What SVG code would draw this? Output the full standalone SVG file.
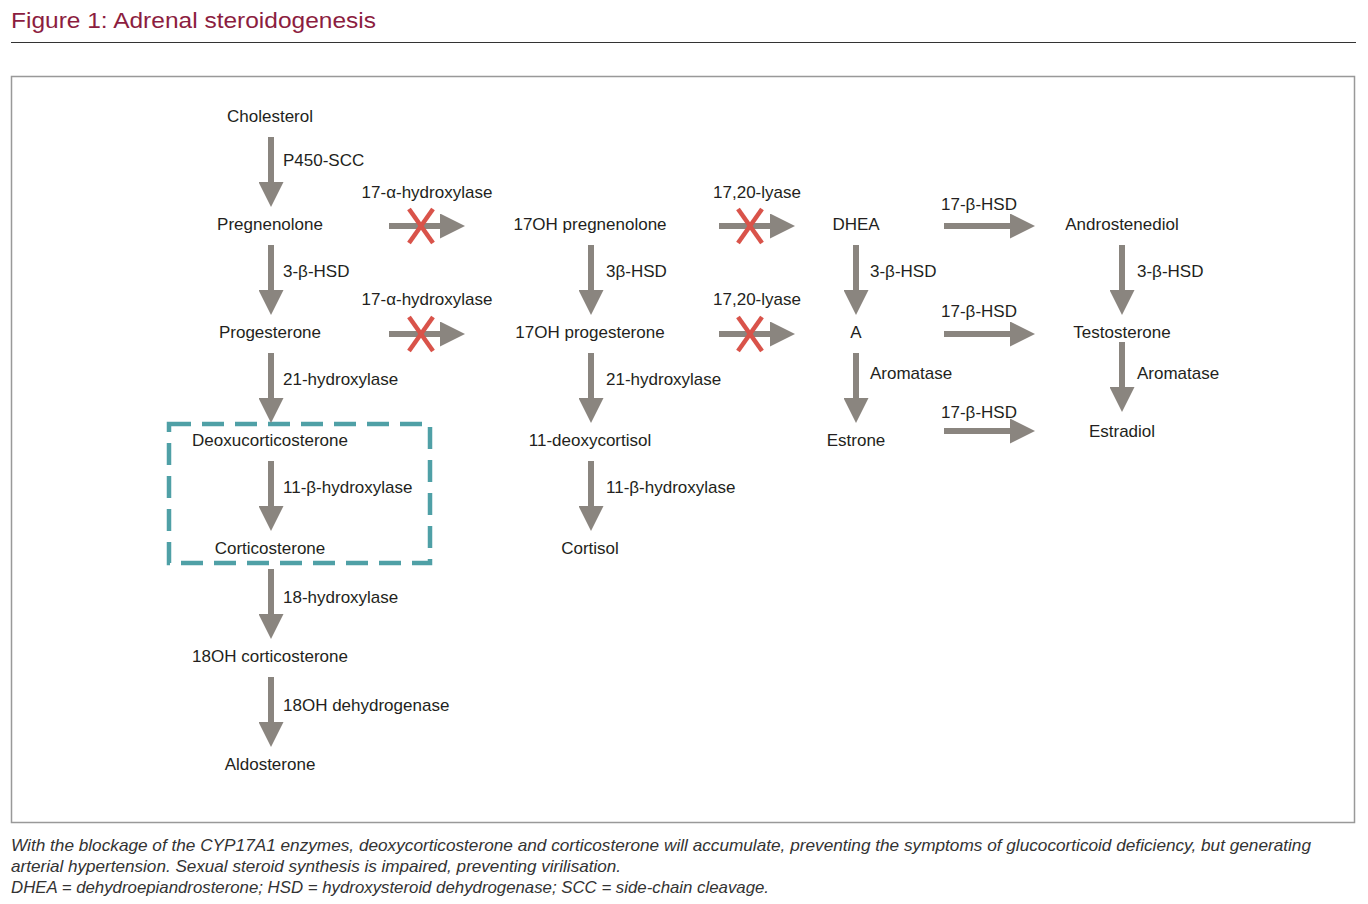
<svg xmlns="http://www.w3.org/2000/svg" width="1368" height="904" viewBox="0 0 1368 904">
<defs>
<marker id="ah" viewBox="0 0 25 25" refX="0" refY="12.5" markerWidth="25" markerHeight="25" markerUnits="userSpaceOnUse" orient="auto">
<path d="M0,0 L25,12.5 L0,25 Z" fill="#8a857f"/>
</marker>
<style>
.t{font-family:"Liberation Sans",Arial,sans-serif;font-size:17px;fill:#231f20}
.c{text-anchor:middle}
.a{stroke:#8a857f;stroke-width:6;fill:none;marker-end:url(#ah)}
.x{stroke:#d9534a;stroke-width:4.5;stroke-linecap:butt}
.cap{font-family:"Liberation Sans Narrow","Liberation Sans",Arial,sans-serif;font-size:17px;font-style:italic;fill:#333}
</style>
</defs>
<rect width="1368" height="904" fill="#fff"/>
<text x="11" y="28" font-family="Liberation Sans, Arial, sans-serif" font-size="22" fill="#8c1d40" textLength="365" lengthAdjust="spacingAndGlyphs">Figure 1: Adrenal steroidogenesis</text>
<line x1="11" y1="42.5" x2="1356" y2="42.5" stroke="#333" stroke-width="1"/>
<rect x="11.5" y="76.5" width="1343" height="746" fill="none" stroke="#999" stroke-width="1.5"/>

<g id="highlight">
<rect x="169" y="424" width="261" height="139" fill="none" stroke="#4fa0a6" stroke-width="4.5" stroke-dasharray="22 11"/>
</g>

<g id="connectors">
<line class="a" x1="271" y1="137" x2="271" y2="182"/>
<line class="a" x1="271" y1="245" x2="271" y2="290"/>
<line class="a" x1="271" y1="353" x2="271" y2="398"/>
<line class="a" x1="271" y1="461" x2="271" y2="506"/>
<line class="a" x1="271" y1="569" x2="271" y2="614"/>
<line class="a" x1="271" y1="677" x2="271" y2="722"/>
<line class="a" x1="591" y1="245" x2="591" y2="290"/>
<line class="a" x1="591" y1="353" x2="591" y2="398"/>
<line class="a" x1="591" y1="461" x2="591" y2="506"/>
<line class="a" x1="856" y1="245" x2="856" y2="290"/>
<line class="a" x1="856" y1="353" x2="856" y2="398"/>
<line class="a" x1="1122" y1="245" x2="1122" y2="290"/>
<line class="a" x1="1122" y1="342" x2="1122" y2="387"/>
<line class="a" x1="389" y1="226" x2="440" y2="226"/>
<line class="a" x1="389" y1="334" x2="440" y2="334"/>
<line class="a" x1="719" y1="226" x2="770" y2="226"/>
<line class="a" x1="719" y1="334" x2="770" y2="334"/>
<line class="a" x1="944" y1="226" x2="1010" y2="226"/>
<line class="a" x1="944" y1="334" x2="1010" y2="334"/>
<line class="a" x1="944" y1="431" x2="1010" y2="431"/>
<g id="blocks">
<line class="x" x1="409" y1="209" x2="433" y2="243"/><line class="x" x1="433" y1="209" x2="409" y2="243"/>
<line class="x" x1="409" y1="317" x2="433" y2="351"/><line class="x" x1="433" y1="317" x2="409" y2="351"/>
<line class="x" x1="738" y1="209" x2="762" y2="243"/><line class="x" x1="762" y1="209" x2="738" y2="243"/>
<line class="x" x1="738" y1="317" x2="762" y2="351"/><line class="x" x1="762" y1="317" x2="738" y2="351"/>
</g>
<g id="edge-labels" class="t">
<text x="283" y="166">P450-SCC</text>
<text x="283" y="277">3-β-HSD</text>
<text x="283" y="385">21-hydroxylase</text>
<text x="283" y="493">11-β-hydroxylase</text>
<text x="283" y="603">18-hydroxylase</text>
<text x="283" y="711">18OH dehydrogenase</text>
<text x="606" y="277">3β-HSD</text>
<text x="606" y="385">21-hydroxylase</text>
<text x="606" y="493">11-β-hydroxylase</text>
<text x="870" y="277">3-β-HSD</text>
<text x="870" y="379">Aromatase</text>
<text x="1137" y="277">3-β-HSD</text>
<text x="1137" y="379">Aromatase</text>
<text class="c" x="427" y="198">17-α-hydroxylase</text>
<text class="c" x="427" y="305">17-α-hydroxylase</text>
<text class="c" x="757" y="198">17,20-lyase</text>
<text class="c" x="757" y="305">17,20-lyase</text>
<text class="c" x="979" y="210">17-β-HSD</text>
<text class="c" x="979" y="317">17-β-HSD</text>
<text class="c" x="979" y="418">17-β-HSD</text>
</g>
</g>

<g id="cholesterol"><text class="t c" x="270" y="122">Cholesterol</text></g>
<g id="pregnenolone"><text class="t c" x="270" y="230">Pregnenolone</text></g>
<g id="progesterone"><text class="t c" x="270" y="338">Progesterone</text></g>
<g id="deoxycorticosterone"><text class="t c" x="270" y="446">Deoxucorticosterone</text></g>
<g id="corticosterone"><text class="t c" x="270" y="554">Corticosterone</text></g>
<g id="oh18-corticosterone"><text class="t c" x="270" y="662">18OH corticosterone</text></g>
<g id="aldosterone"><text class="t c" x="270" y="770">Aldosterone</text></g>
<g id="oh17-pregnenolone"><text class="t c" x="590" y="230">17OH pregnenolone</text></g>
<g id="oh17-progesterone"><text class="t c" x="590" y="338">17OH progesterone</text></g>
<g id="deoxycortisol"><text class="t c" x="590" y="446">11-deoxycortisol</text></g>
<g id="cortisol"><text class="t c" x="590" y="554">Cortisol</text></g>
<g id="dhea"><text class="t c" x="856" y="230">DHEA</text></g>
<g id="a"><text class="t c" x="856" y="338">A</text></g>
<g id="estrone"><text class="t c" x="856" y="446">Estrone</text></g>
<g id="androstenediol"><text class="t c" x="1122" y="230">Androstenediol</text></g>
<g id="testosterone"><text class="t c" x="1122" y="338">Testosterone</text></g>
<g id="estradiol"><text class="t c" x="1122" y="437">Estradiol</text></g>

<g id="caption">
<text class="cap" x="11" y="851" textLength="1300" lengthAdjust="spacingAndGlyphs">With the blockage of the CYP17A1 enzymes, deoxycorticosterone and corticosterone will accumulate, preventing the symptoms of glucocorticoid deficiency, but generating</text>
<text class="cap" x="11" y="872" textLength="610" lengthAdjust="spacingAndGlyphs">arterial hypertension. Sexual steroid synthesis is impaired, preventing virilisation.</text>
<text class="cap" x="11" y="893" textLength="758" lengthAdjust="spacingAndGlyphs">DHEA = dehydroepiandrosterone; HSD = hydroxysteroid dehydrogenase; SCC = side-chain cleavage.</text>
</g>
</svg>
